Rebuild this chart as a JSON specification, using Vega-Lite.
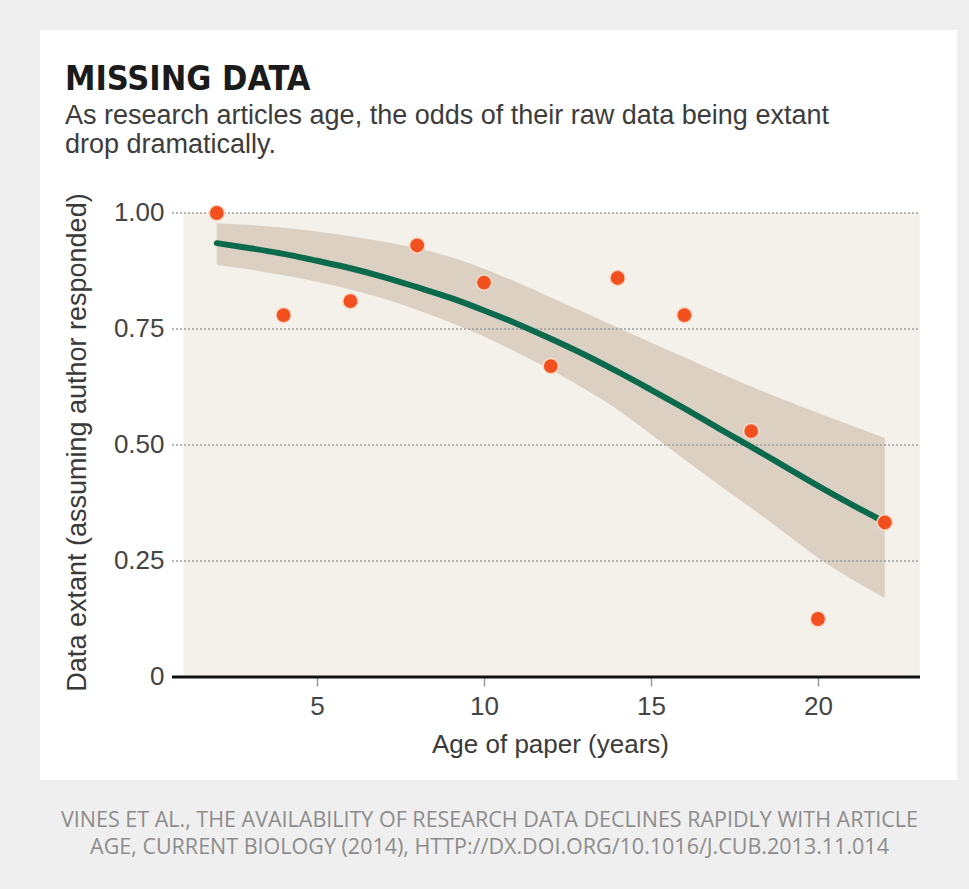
{
  "$schema": "https://vega.github.io/schema/vega-lite/v6.json",
  "width": 917,
  "height": 750,
  "autosize": {"type": "none"},
  "padding": {"left": 40, "top": 30, "right": 12, "bottom": 109},
  "background": "#efefef",
  "config": {"view": {"fill": "white", "stroke": null}},
  "title": {
    "text": "MISSING DATA",
    "subtitle": ["As research articles age, the odds of their raw data being extant", "drop dramatically."],
    "anchor": "start",
    "frame": "group",
    "offset": -128,
    "dx": 25,
    "font": "DejaVu Sans Condensed, Roboto",
    "fontSize": 34,
    "fontWeight": "bold",
    "color": "#1b1b1b",
    "subtitleFont": "Liberation Sans",
    "subtitleFontSize": 27,
    "subtitleColor": "#3c3c3c",
    "subtitleLineHeight": 29,
    "subtitlePadding": 6
  },
  "datasets": {
    "pts": [
      {"age": 2, "extant": 1.0},
      {"age": 4, "extant": 0.78},
      {"age": 6, "extant": 0.81},
      {"age": 8, "extant": 0.93},
      {"age": 10, "extant": 0.85},
      {"age": 12, "extant": 0.67},
      {"age": 14, "extant": 0.86},
      {"age": 16, "extant": 0.78},
      {"age": 18, "extant": 0.53},
      {"age": 20, "extant": 0.125},
      {"age": 22, "extant": 0.333}
    ],
    "fit": [
      {"age": 2, "fit": 0.935, "lo": 0.888, "hi": 0.978},
      {"age": 3, "fit": 0.924, "lo": 0.878, "hi": 0.974},
      {"age": 4, "fit": 0.912, "lo": 0.866, "hi": 0.968},
      {"age": 5, "fit": 0.897, "lo": 0.852, "hi": 0.960},
      {"age": 6, "fit": 0.881, "lo": 0.835, "hi": 0.950},
      {"age": 7, "fit": 0.862, "lo": 0.815, "hi": 0.938},
      {"age": 8, "fit": 0.840, "lo": 0.791, "hi": 0.924},
      {"age": 9, "fit": 0.817, "lo": 0.764, "hi": 0.905},
      {"age": 10, "fit": 0.790, "lo": 0.734, "hi": 0.880},
      {"age": 11, "fit": 0.761, "lo": 0.699, "hi": 0.850},
      {"age": 12, "fit": 0.729, "lo": 0.662, "hi": 0.818},
      {"age": 13, "fit": 0.695, "lo": 0.621, "hi": 0.786},
      {"age": 14, "fit": 0.658, "lo": 0.576, "hi": 0.753},
      {"age": 15, "fit": 0.619, "lo": 0.523, "hi": 0.721},
      {"age": 16, "fit": 0.579, "lo": 0.469, "hi": 0.689},
      {"age": 17, "fit": 0.537, "lo": 0.416, "hi": 0.657},
      {"age": 18, "fit": 0.496, "lo": 0.364, "hi": 0.626},
      {"age": 19, "fit": 0.454, "lo": 0.311, "hi": 0.597},
      {"age": 20, "fit": 0.412, "lo": 0.257, "hi": 0.569},
      {"age": 21, "fit": 0.372, "lo": 0.211, "hi": 0.542},
      {"age": 22, "fit": 0.334, "lo": 0.170, "hi": 0.515}
    ],
    "grid": [
      {"level": 0.25},
      {"level": 0.5},
      {"level": 0.75},
      {"level": 1.0}
    ]
  },
  "resolve": {"axis": {"x": "independent", "y": "independent"}},
  "layer": [
    {
      "data": {"values": [{}]},
      "mark": {"type": "rect", "fill": "#f3f1ea"},
      "encoding": {
        "x": {"datum": 1.0, "type": "quantitative", "scale": {"domain": [-3.293, 24.162], "nice": false, "zero": false},
          "axis": {"orient": "bottom", "offset": 0, "labels": false, "ticks": false, "domain": false, "grid": false,
            "title": ["VINES ET AL., THE AVAILABILITY OF RESEARCH DATA DECLINES RAPIDLY WITH ARTICLE", "AGE, CURRENT BIOLOGY (2014), HTTP://DX.DOI.ORG/10.1016/J.CUB.2013.11.014"],
            "titleFont": "Open Sans", "titleFontSize": 21.5, "titleFontWeight": "normal", "titleColor": "#8c8c8c",
            "titleLineHeight": 27, "titlePadding": 29, "titleX": 449, "titleAlign": "center"}},
        "x2": {"datum": 23.05},
        "y": {"datum": 0, "type": "quantitative", "scale": {"domain": [-0.222, 1.3944], "nice": false, "zero": false}, "axis": null},
        "y2": {"datum": 1.0}
      }
    },
    {
      "data": {"name": "fit"},
      "mark": {"type": "area", "color": "#dbd0c2", "interpolate": "monotone"},
      "encoding": {
        "x": {"field": "age", "type": "quantitative", "scale": {"domain": [-3.293, 24.162], "nice": false, "zero": false}, "axis": null},
        "y": {"field": "lo", "type": "quantitative", "scale": {"domain": [-0.222, 1.3944], "nice": false, "zero": false}, "axis": null},
        "y2": {"field": "hi"}
      }
    },
    {
      "data": {"name": "grid"},
      "mark": {"type": "rule", "color": "#9c9c9c", "strokeWidth": 1.5, "strokeDash": [2, 2]},
      "encoding": {
        "x": {"datum": 0.659, "type": "quantitative", "scale": {"domain": [-3.293, 24.162], "nice": false, "zero": false}, "axis": null},
        "x2": {"datum": 23.054},
        "y": {"field": "level", "type": "quantitative", "scale": {"domain": [-0.222, 1.3944], "nice": false, "zero": false}, "axis": null}
      }
    },
    {
      "data": {"name": "fit"},
      "mark": {"type": "line", "color": "#0b6a4b", "strokeWidth": 6, "strokeCap": "round", "interpolate": "monotone"},
      "encoding": {
        "x": {"field": "age", "type": "quantitative", "scale": {"domain": [-3.293, 24.162], "nice": false, "zero": false}, "axis": null},
        "y": {"field": "fit", "type": "quantitative", "scale": {"domain": [-0.222, 1.3944], "nice": false, "zero": false}, "axis": null}
      }
    },
    {
      "data": {"values": [{}]},
      "mark": {"type": "rule", "color": "#111111", "strokeWidth": 3},
      "encoding": {
        "x": {"datum": 0.659, "type": "quantitative", "scale": {"domain": [-3.293, 24.162], "nice": false, "zero": false}, "axis": null},
        "x2": {"datum": 23.054},
        "y": {"datum": 0, "type": "quantitative", "scale": {"domain": [-0.222, 1.3944], "nice": false, "zero": false}, "axis": null}
      }
    },
    {
      "data": {"name": "pts"},
      "mark": {"type": "circle", "color": "#f2501e", "opacity": 1, "size": 235, "stroke": "#fbd9c9", "strokeWidth": 1.5},
      "encoding": {
        "x": {"field": "age", "type": "quantitative", "scale": {"domain": [-3.293, 24.162], "nice": false, "zero": false},
          "axis": {"orient": "bottom", "offset": -103, "values": [5, 10, 15, 20], "domain": false, "grid": false,
            "tickColor": "#9a9a9a", "tickSize": 9, "tickWidth": 1.5,
            "labelFont": "Liberation Sans", "labelFontSize": 26, "labelColor": "#444444", "labelPadding": 7,
            "title": "Age of paper (years)", "titleFont": "Liberation Sans", "titleFontSize": 26, "titleFontWeight": "normal",
            "titleColor": "#3a3a3a", "titlePadding": 12, "titleX": 510, "titleAlign": "center"}},
        "y": {"field": "extant", "type": "quantitative", "scale": {"domain": [-0.222, 1.3944], "nice": false, "zero": false},
          "axis": {"orient": "left", "offset": -132, "values": [0, 0.25, 0.5, 0.75, 1],
            "labelExpr": "datum.value == 0 ? '0' : format(datum.value, '.2f')",
            "domain": false, "ticks": false, "grid": false,
            "labelFont": "Liberation Sans", "labelFontSize": 26, "labelColor": "#444444", "labelPadding": 8,
            "title": "Data extant (assuming author responded)", "titleFont": "Liberation Sans", "titleFontSize": 27,
            "titleFontWeight": "normal", "titleColor": "#3a3a3a", "titlePadding": 22, "titleY": 412}}
      }
    }
  ]
}
